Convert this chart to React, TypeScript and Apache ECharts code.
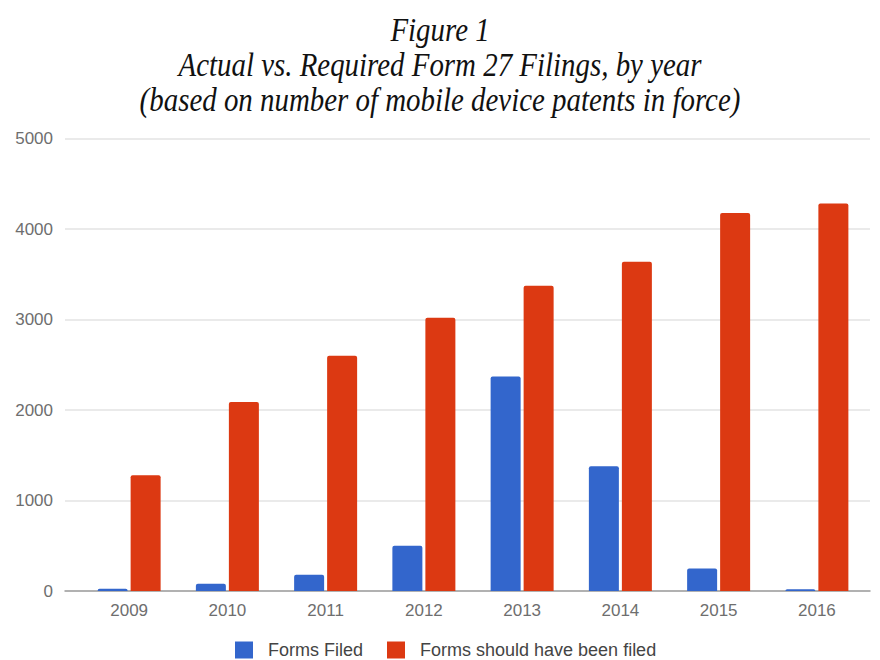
import React, { useEffect, useRef } from "react";
import * as echarts from "echarts";

const years = ["2009", "2010", "2011", "2012", "2013", "2014", "2015", "2016"];
const formsFiled = [25, 80, 180, 500, 2370, 1380, 250, 20];
const formsRequired = [1280, 2090, 2600, 3020, 3375, 3640, 4180, 4285];
const yMin = 0;
const yMax = 5000;
const yStep = 1000;
const titleLines = [
  "Figure 1",
  "Actual vs. Required Form 27 Filings, by year",
  "(based on number of mobile device patents in force)",
];

export default function App() {
  const ref = useRef<HTMLDivElement>(null);
  useEffect(() => {
    document.body.style.margin = "0";
    if (!ref.current) return;
    const chart = echarts.init(ref.current, undefined, { renderer: "svg" });
    const font = "Liberation Sans, Arial, sans-serif";
    const titleY = [30, 65, 100];
    chart.setOption({
      animation: false,
      backgroundColor: "#ffffff",
      graphic: titleLines.map((t, i) => ({
        type: "text",
        x: 440,
        y: titleY[i],
        scaleX: 0.85,
        style: {
          text: t,
          font: "italic 34px 'Liberation Serif', 'Times New Roman', serif",
          fill: "#111111",
          textAlign: "center",
          textVerticalAlign: "middle",
        },
      })),
      grid: [
        { left: 65, right: 10, top: 138.7, bottom: 69 },
        { left: 80, right: 14, top: 138.7, bottom: 69 },
      ],
      xAxis: [
        {
          gridIndex: 0,
          type: "value",
          min: 0,
          max: 1,
          axisLine: { show: true, lineStyle: { color: "#9e9e9e", width: 1.5 } },
          axisTick: { show: false },
          axisLabel: { show: false },
          splitLine: { show: false },
        },
        {
          gridIndex: 1,
          type: "category",
          data: years,
          axisLine: { show: false },
          axisTick: { show: false },
          axisLabel: { color: "#6e6e6e", fontSize: 17, fontFamily: font, margin: 11 },
        },
      ],
      yAxis: [
        {
          gridIndex: 0,
          type: "value",
          min: yMin,
          max: yMax,
          interval: yStep,
          axisLine: { show: false },
          axisTick: { show: false },
          axisLabel: {
            color: "#6e6e6e",
            fontSize: 17,
            fontFamily: font,
            margin: 12,
            formatter: (v: number) => String(v),
          },
          splitLine: { lineStyle: { color: "#e3e3e3", width: 1.5 } },
        },
        {
          gridIndex: 1,
          type: "value",
          min: yMin,
          max: yMax,
          interval: yStep,
          show: false,
          splitLine: { show: false },
        },
      ],
      legend: {
        top: 641,
        left: 235,
        padding: 0,
        icon: "rect",
        itemWidth: 18,
        itemHeight: 17,
        itemGap: 24,
        textStyle: {
          color: "#444444",
          fontSize: 18,
          lineHeight: 18,
          fontFamily: font,
          padding: [0, 0, 0, 10],
        },
        data: ["Forms Filed", "Forms should have been filed"],
      },
      series: [
        {
          name: "Forms Filed",
          type: "bar",
          xAxisIndex: 1,
          yAxisIndex: 1,
          data: formsFiled,
          barWidth: 30,
          barGap: "10%",
          itemStyle: { color: "#3366cc", borderRadius: [2, 2, 0, 0] },
        },
        {
          name: "Forms should have been filed",
          type: "bar",
          xAxisIndex: 1,
          yAxisIndex: 1,
          data: formsRequired,
          barWidth: 30,
          barGap: "10%",
          itemStyle: { color: "#dc3912", borderRadius: [2, 2, 0, 0] },
        },
      ],
    });
    return () => chart.dispose();
  }, []);
  return <div ref={ref} style={{ width: 880, height: 660 }} />;
}
